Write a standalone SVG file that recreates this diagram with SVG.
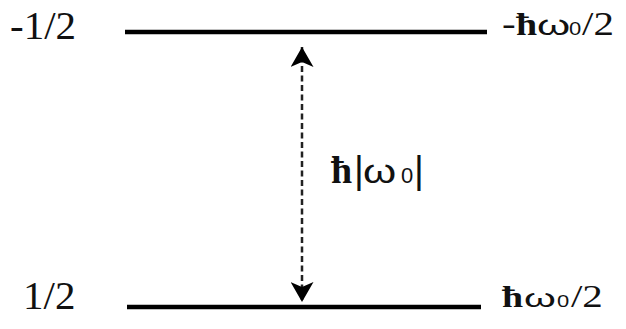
<svg xmlns="http://www.w3.org/2000/svg" width="626" height="329" viewBox="0 0 626 329">
<defs>
<style>
.lvl{stroke:#000;stroke-width:4.5;fill:none}
.ser{font-family:"Liberation Serif","Times New Roman",serif;font-size:41px;fill:#111}
.hb{font-family:"Liberation Serif","Times New Roman",serif;font-size:38px;font-weight:bold;fill:#111}
.om{font-family:"Liberation Sans",Arial,sans-serif;font-size:34px;fill:#111}
.sub{font-family:"Liberation Sans",Arial,sans-serif;font-size:22px;fill:#111}
.bar{font-family:"Liberation Sans",Arial,sans-serif;font-size:38px;fill:#111}
</style>
<marker id="ah" markerUnits="userSpaceOnUse" viewBox="0 0 21 23" markerWidth="21" markerHeight="23" refX="20" refY="11.5" orient="auto-start-reverse">
<path d="M0,0 L20,11.5 L0,23 L5,11.5 Z" fill="#000"/>
</marker>
</defs>
<rect width="626" height="329" fill="#fff"/>
<g id="connectors">
<line x1="302" y1="47" x2="302" y2="302" stroke="#222" stroke-width="2.5" stroke-dasharray="6 3.5" marker-start="url(#ah)" marker-end="url(#ah)"/>
</g>
<g id="level-upper">
<line class="lvl" x1="125" y1="32" x2="487" y2="32"/>
<text class="ser" x="10" y="39">-1/2</text>
<g transform="translate(0,35) scale(1,0.82)">
<text class="ser" x="502" y="0">-</text>
<text class="hb" x="516" y="0">ħ</text>
<text class="om" transform="translate(537,0) scale(1.25,1)">ω</text>
<text class="sub" x="569" y="0">0</text>
<text class="ser" x="582" y="0">/2</text>
</g>
</g>
<g id="level-lower">
<line class="lvl" x1="127" y1="307" x2="481" y2="307"/>
<text class="ser" x="23" y="309">1/2</text>
<g transform="translate(0,307) scale(1,0.78)">
<text class="hb" x="502" y="0">ħ</text>
<text class="om" transform="translate(524,0) scale(1.2,1)">ω</text>
<text class="sub" x="557" y="0">0</text>
<text class="ser" x="571" y="0">/2</text>
</g>
</g>
<g id="gap-label">
<text class="hb" x="331" y="183">ħ</text>
<text class="bar" x="354" y="183">|</text>
<text class="om" transform="translate(363,183) scale(1.25,1)">ω</text>
<text class="sub" x="401" y="183">0</text>
<text class="bar" x="414" y="183">|</text>
</g>
</svg>
